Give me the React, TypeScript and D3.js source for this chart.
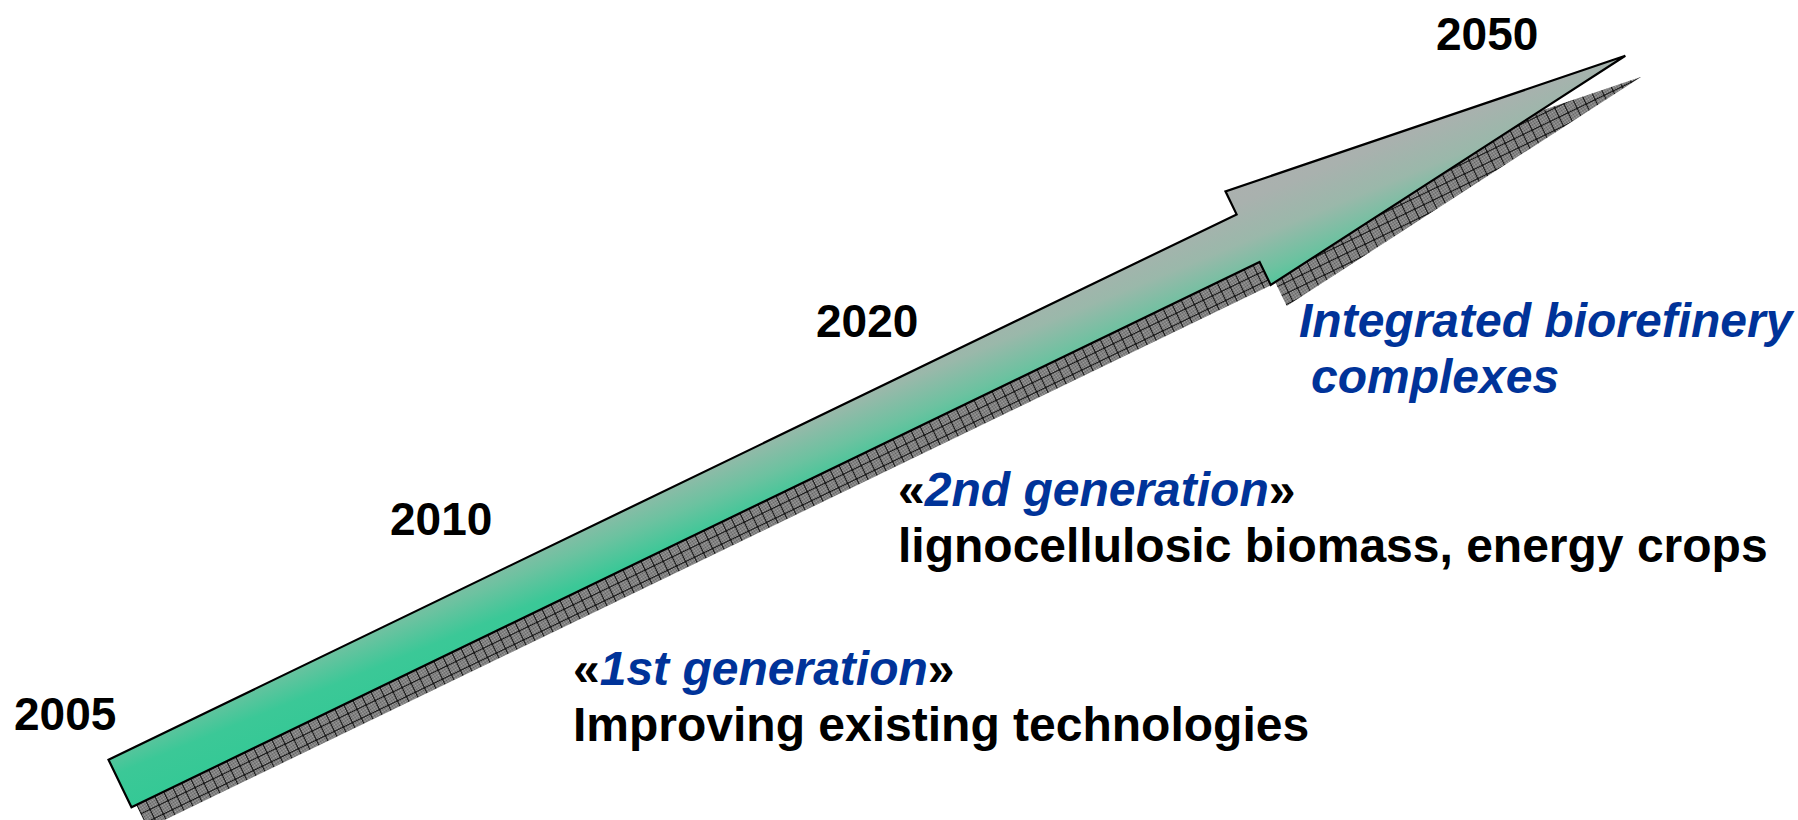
import React from "react";
import * as d3 from "d3";

// milestones shown along the arrow
const years = ["2005", "2010", "2020", "2050"];

// stage captions: the italic keyword and the plain line under it
const stageKeywords = ["1st generation", "2nd generation"];
const stageLines = ["Improving existing technologies", "lignocellulosic biomass, energy crops"];
const finalStage = ["Integrated biorefinery", "complexes"];

// layout (kept apart from the data above)
const W = 1798;
const H = 820;
const yearPos = [
  [14, 730],
  [390, 535],
  [816, 337],
  [1436, 50],
];
const stagePos = [
  [573, 685],
  [898, 506],
];
const finalPos = [1299, 337];
const lineGap = 56;

const BLUE = "#003399";
const FONT = "'Liberation Sans', Arial, Helvetica, sans-serif";

// arrow geometry in its own frame (x along the shaft, y across it)
const origin = [120, 783.5];
const angle = -25.8;
const arrowLen = 1672;
const shaftHalf = 26.4;
const headHalf = 52;
const headStart = 1253;
const shadowOffset = [16, 21];

const outline: [number, number][] = [
  [0, -shaftHalf],
  [headStart, -shaftHalf],
  [headStart, -headHalf],
  [arrowLen, 0],
  [headStart, headHalf],
  [headStart, shaftHalf],
  [0, shaftHalf],
];

const x = d3.scaleLinear().domain([0, arrowLen]).range([0, arrowLen]);
const y = d3.scaleLinear().domain([-headHalf, headHalf]).range([-headHalf, headHalf]);
const arrowPath = d3
  .line<[number, number]>()
  .x((d) => x(d[0]))
  .y((d) => y(d[1]))
  .curve(d3.curveLinearClosed)(outline) as string;

const App = () => {
  return (
    <svg
      width={W}
      height={H}
      style={{ position: "absolute", left: 0, top: 0, background: "#fff" }}
      fontFamily={FONT}
    >
      <defs>
        <linearGradient
          id="arrowFill"
          gradientUnits="userSpaceOnUse"
          x1={0}
          y1={52}
          x2={13}
          y2={-155}
        >
          <stop offset="0" stopColor="#30c994" />
          <stop offset="0.3" stopColor="#3bc897" />
          <stop offset="0.45" stopColor="#6cc2a0" />
          <stop offset="0.62" stopColor="#9ab8aa" />
          <stop offset="0.8" stopColor="#a9b1ae" />
          <stop offset="1" stopColor="#aeb0af" />
        </linearGradient>
        <pattern id="dither" width={2} height={2} patternUnits="userSpaceOnUse">
          <rect width={2} height={2} fill="#a6a6a6" />
          <rect width={1} height={1} fill="#5c5c5c" />
          <rect x={1} y={1} width={1} height={1} fill="#5c5c5c" />
        </pattern>
        <pattern id="hatch" width={10} height={10} patternUnits="userSpaceOnUse">
          <rect width={10} height={10} fill="url(#dither)" />
          <path d="M0,0.5H10M0.5,0V10" stroke="#141414" strokeWidth={1} />
        </pattern>
      </defs>

      {/* shadow */}
      <g transform={`translate(${origin[0] + shadowOffset[0]},${origin[1] + shadowOffset[1]}) rotate(${angle})`}>
        <path d={arrowPath} fill="url(#hatch)" />
      </g>

      {/* arrow */}
      <g transform={`translate(${origin[0]},${origin[1]}) rotate(${angle})`}>
        <path
          d={arrowPath}
          fill="url(#arrowFill)"
          stroke="#000"
          strokeWidth={2.2}
          strokeLinejoin="miter"
        />
      </g>

      {years.map((yr, i) => (
        <text
          key={yr}
          x={yearPos[i][0]}
          y={yearPos[i][1]}
          fontSize={46}
          fontWeight="bold"
          fill="#000"
        >
          {yr}
        </text>
      ))}

      {stageKeywords.map((kw, i) => (
        <g key={kw}>
          <text x={stagePos[i][0]} y={stagePos[i][1]} fontSize={48} fontWeight="bold" fill="#000">
            {"«"}
            <tspan fill={BLUE} fontStyle="italic">
              {kw}
            </tspan>
            {"»"}
          </text>
          <text
            x={stagePos[i][0]}
            y={stagePos[i][1] + lineGap}
            fontSize={48}
            fontWeight="bold"
            fill="#000"
          >
            {stageLines[i]}
          </text>
        </g>
      ))}

      {finalStage.map((ln, i) => (
        <text
          key={ln}
          x={finalPos[0] + i * 12}
          y={finalPos[1] + i * lineGap}
          fontSize={48}
          fontWeight="bold"
          fontStyle="italic"
          fill={BLUE}
        >
          {ln}
        </text>
      ))}
    </svg>
  );
};

export default App;
